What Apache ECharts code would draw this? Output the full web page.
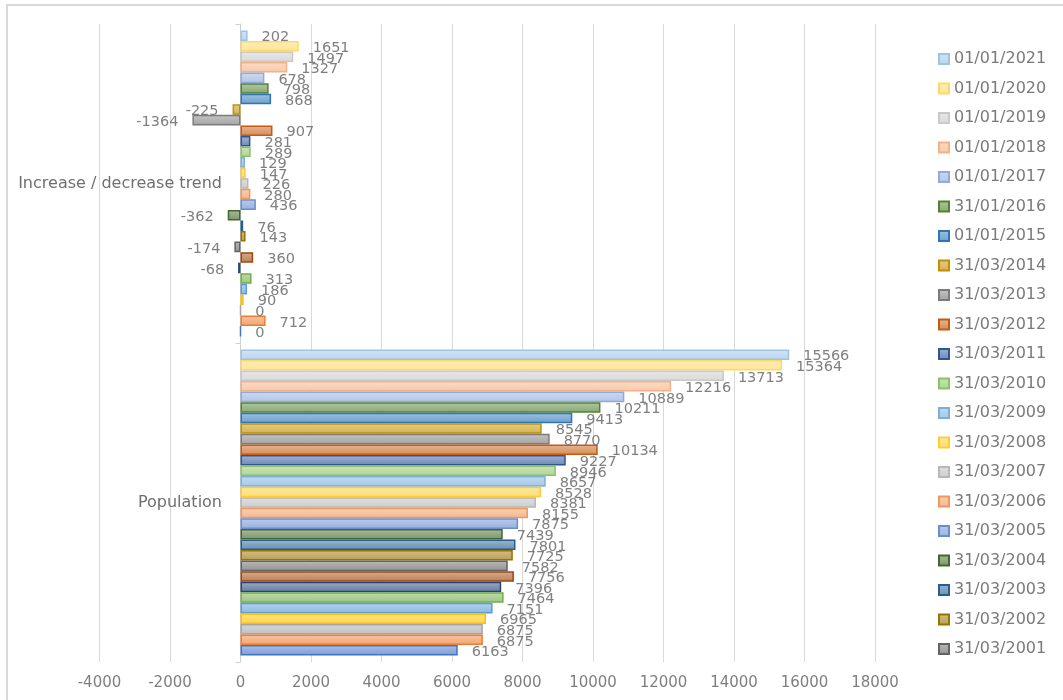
<!DOCTYPE html>
<html>
<head>
<meta charset="utf-8">
<script src="https://cdn.jsdelivr.net/npm/echarts@6/dist/echarts.min.js"></script>
<style>
  html, body { margin: 0; padding: 0; background: #fff; }
  #chart { width: 1063px; height: 700px; }
</style>
</head>
<body>
<div id="chart"></div>
<script>
const categories = ['Population', 'Increase / decrease trend'];

const dates = [
  '31/03/1993', '31/03/1994', '31/03/1995', '31/03/1996', '31/03/1997',
  '31/03/1998', '31/03/1999', '31/03/2000', '31/03/2001', '31/03/2002',
  '31/03/2003', '31/03/2004', '31/03/2005', '31/03/2006', '31/03/2007',
  '31/03/2008', '31/03/2009', '31/03/2010', '31/03/2011', '31/03/2012',
  '31/03/2013', '31/03/2014', '01/01/2015', '31/01/2016', '01/01/2017',
  '01/01/2018', '01/01/2019', '01/01/2020', '01/01/2021'
];

const population = [
  6163, 6875, 6875, 6965, 7151, 7464, 7396, 7756, 7582, 7725,
  7801, 7439, 7875, 8155, 8381, 8528, 8657, 8946, 9227, 10134,
  8770, 8545, 9413, 10211, 10889, 12216, 13713, 15364, 15566
];

const change = [
  0, 712, 0, 90, 186, 313, -68, 360, -174, 143,
  76, -362, 436, 280, 226, 147, 129, 289, 281, 907,
  -1364, -225, 868, 798, 678, 1327, 1497, 1651, 202
];

// legend only shows the newest 21 entries (older ones are cut off)
const legendNames = dates.slice(8).reverse();

const palette = [
  '#4472C4', '#ED7D31', '#A5A5A5', '#FFC000', '#5B9BD5', '#70AD47',
  '#264478', '#9E480E', '#636363', '#997300', '#255E91', '#43682B',
  '#698ED0', '#F1975A', '#B7B7B7', '#FFCD33', '#7CAFDD', '#8CC168',
  '#2F5597', '#C55A11', '#7B7B7B', '#BF9000', '#2E75B6', '#548235',
  '#8FAADC', '#F4B183', '#C9C9C9', '#FFD966', '#9DC3E6'
];

function lighten(hex, t) {
  const n = parseInt(hex.slice(1), 16);
  const r = (n >> 16) & 255, g = (n >> 8) & 255, b = n & 255;
  const mix = c => Math.round(c + (255 - c) * t);
  return `rgb(${mix(r)},${mix(g)},${mix(b)})`;
}

const chart = echarts.init(document.getElementById('chart'));

// newest first so that the oldest bar ends up at the bottom of each group
const series = dates.map((name, i) => {
  const color = palette[i];
  const values = [population[i], change[i]];
  return {
    name,
    type: 'bar',
    barGap: '0%',
    barCategoryGap: '4%',
    data: values.map(v => ({
      value: v,
      label: { position: v < 0 ? 'left' : 'right' }
    })),
    itemStyle: {
      color: new echarts.graphic.LinearGradient(0, 0, 0, 1, [
        { offset: 0, color: lighten(color, 0.55) },
        { offset: 1, color: lighten(color, 0.3) }
      ]),
      borderColor: color,
      borderWidth: 1.5
    },
    label: {
      show: true,
      distance: 14,
      offset: [0, 2],
      color: '#7f7f7f',
      fontFamily: 'DejaVu Sans',
      fontSize: 14.5
    },
    emphasis: { disabled: true }
  };
}).reverse();

const option = {
  animation: false,
  backgroundColor: '#fff',
  graphic: [{
    type: 'rect',
    shape: { x: 7, y: 5, width: 1200, height: 900 },
    style: { fill: 'none', stroke: '#d9d9d9', lineWidth: 2 },
    silent: true
  }],
  grid: {
    left: 99.5,
    right: 188,
    top: 24,
    bottom: 38,
    outerBoundsMode: 'none'
  },
  legend: {
    data: legendNames,
    orient: 'vertical',
    left: 933,
    top: 45,
    icon: 'rect',
    itemWidth: 10,
    itemHeight: 10,
    itemGap: 11.5,
    selectedMode: false,
    textStyle: {
      color: '#7a7a7a',
      fontFamily: 'DejaVu Sans',
      fontSize: 16,
      lineHeight: 18
    }
  },
  xAxis: {
    type: 'value',
    min: -4000,
    max: 18000,
    interval: 2000,
    axisLine: { show: false },
    axisTick: { show: false },
    axisLabel: {
      color: '#7f7f7f',
      fontFamily: 'DejaVu Sans',
      fontSize: 15,
      margin: 14,
      formatter: v => String(v)
    },
    splitLine: { lineStyle: { color: '#d9d9d9', width: 1 } }
  },
  yAxis: {
    type: 'category',
    data: categories,
    axisLine: { onZero: true, lineStyle: { color: '#d0d0d0', width: 1 } },
    axisTick: { show: true, length: 5, lineStyle: { color: '#d0d0d0' } },
    axisLabel: {
      color: '#6f6f6f',
      fontFamily: 'DejaVu Sans',
      fontSize: 16,
      margin: -122.5
    },
    splitLine: { show: false }
  },
  series
};

chart.setOption(option);
</script>
</body>
</html>
